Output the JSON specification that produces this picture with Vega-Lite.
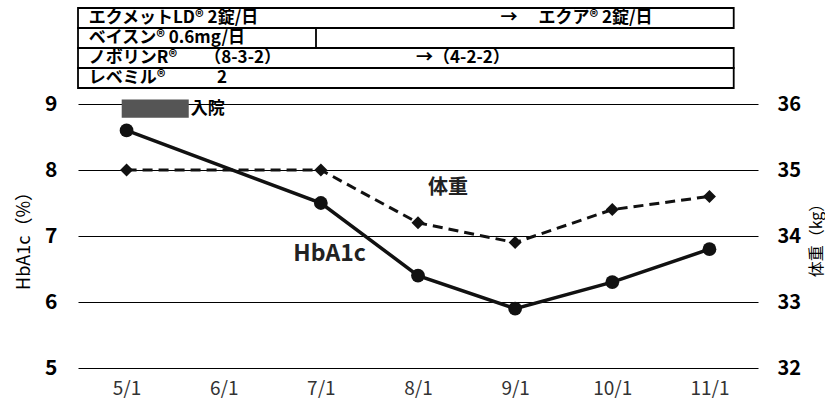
{
  "$schema": "https://vega.github.io/schema/vega-lite/v6.json",
  "padding": {"left": 15, "top": 7, "right": 0, "bottom": 0},
  "background": "white",
  "bounds": "flush",
  "spacing": 16,
  "config": {
    "view": {"stroke": null},
    "font": "Noto Sans CJK JP",
    "axisX": {"grid": false, "domain": false, "ticks": false, "labelFontSize": 19, "labelColor": "#333", "labelPadding": 11, "title": null}
  },
  "datasets": {
    "table": [
      {"row": "エクメットLD", "start": 4.5, "end": 11.25},
      {"row": "ベイスン", "start": 4.5, "end": 6.95},
      {"row": "ノボリンR", "start": 4.5, "end": 11.25},
      {"row": "レベミル", "start": 4.5, "end": 11.25}
    ],
    "tabletext": [
      {"row": "エクメットLD", "x": 4.61, "t": "エクメットLD® 2錠/日"},
      {"row": "エクメットLD", "x": 8.85, "t": "→　 エクア® 2錠/日"},
      {"row": "ベイスン", "x": 4.61, "t": "ベイスン® 0.6mg/日"},
      {"row": "ノボリンR", "x": 4.61, "t": "ノボリンR®"},
      {"row": "ノボリンR", "x": 5.8, "t": "（8-3-2）"},
      {"row": "ノボリンR", "x": 7.98, "t": "→（4-2-2）"},
      {"row": "レベミル", "x": 4.61, "t": "レベミル®"},
      {"row": "レベミル", "x": 5.93, "t": "2"}
    ],
    "series": [
      {"m": 5, "hba1c": 8.6, "weight": 35.0},
      {"m": 7, "hba1c": 7.5, "weight": 35.0},
      {"m": 8, "hba1c": 6.4, "weight": 34.2},
      {"m": 9, "hba1c": 5.9, "weight": 33.9},
      {"m": 10, "hba1c": 6.3, "weight": 34.4},
      {"m": 11, "hba1c": 6.8, "weight": 34.6}
    ],
    "events": [
      {"event": "入院", "start": 4.95, "end": 5.64}
    ],
    "labels": [
      {"series": "HbA1c", "m": 7.09, "v": 6.73},
      {"series": "体重", "m": 8.31, "v": 34.73}
    ]
  },
  "vconcat": [
    {
      "width": 680,
      "height": 80,
      "layer": [
        {
          "data": {"name": "table"},
          "mark": {"type": "rect", "fill": "white", "stroke": "black", "strokeWidth": 1.8},
          "encoding": {
            "x": {"field": "start", "type": "quantitative", "scale": {"domain": [4.5, 11.5]}, "axis": null},
            "x2": {"field": "end"},
            "y": {"field": "row", "type": "nominal", "sort": ["エクメットLD", "ベイスン", "ノボリンR", "レベミル"], "scale": {"paddingInner": 0, "paddingOuter": 0}, "axis": null}
          }
        },
        {
          "data": {"name": "tabletext"},
          "mark": {"type": "text", "align": "left", "baseline": "middle", "fontSize": 17, "fontWeight": "bold", "color": "black"},
          "encoding": {
            "x": {"field": "x", "type": "quantitative", "scale": {"domain": [4.5, 11.5]}, "axis": null},
            "y": {"field": "row", "type": "nominal", "sort": ["エクメットLD", "ベイスン", "ノボリンR", "レベミル"], "axis": null},
            "text": {"field": "t"}
          }
        }
      ]
    },
    {
      "width": 680,
      "height": 264,
      "layer": [
        {
          "layer": [
            {
              "data": {"name": "events"},
              "mark": {"type": "rect", "color": "#555"},
              "encoding": {
                "x": {"field": "start", "type": "quantitative", "scale": {"domain": [4.5, 11.5]}, "axis": {"values": [5, 6, 7, 8, 9, 10, 11], "labelExpr": "datum.value + '/1'"}},
                "x2": {"field": "end"},
                "y": {"datum": 9.07, "type": "quantitative", "scale": {"domain": [5, 9]}, "axis": {"orient": "left", "values": [5, 6, 7, 8, 9], "format": "d", "grid": true, "gridColor": "#000", "gridWidth": 1.2, "domain": false, "ticks": false, "labelFontSize": 21, "labelFontWeight": "bold", "labelColor": "#000", "labelPadding": 21, "title": "HbA1c（%）", "titleFontSize": 18, "titleFontWeight": "normal", "titleColor": "#000", "titlePadding": 11}},
                "y2": {"datum": 8.79}
              }
            },
            {
              "data": {"name": "events"},
              "mark": {"type": "text", "align": "left", "baseline": "middle", "dx": 2, "fontSize": 17, "fontWeight": "bold", "color": "#000"},
              "encoding": {
                "x": {"field": "end", "type": "quantitative", "scale": {"domain": [4.5, 11.5]}, "axis": {"values": [5, 6, 7, 8, 9, 10, 11], "labelExpr": "datum.value + '/1'"}},
                "y": {"datum": 8.93, "type": "quantitative"},
                "text": {"field": "event"}
              }
            },
            {
              "data": {"name": "series"},
              "mark": {"type": "line", "color": "#111", "strokeWidth": 3.5},
              "encoding": {
                "x": {"field": "m", "type": "quantitative", "scale": {"domain": [4.5, 11.5]}, "axis": {"values": [5, 6, 7, 8, 9, 10, 11], "labelExpr": "datum.value + '/1'"}},
                "y": {"field": "hba1c", "type": "quantitative"}
              }
            },
            {
              "data": {"name": "series"},
              "mark": {"type": "point", "shape": "circle", "filled": true, "size": 190, "color": "#111", "opacity": 1},
              "encoding": {
                "x": {"field": "m", "type": "quantitative", "scale": {"domain": [4.5, 11.5]}, "axis": {"values": [5, 6, 7, 8, 9, 10, 11], "labelExpr": "datum.value + '/1'"}},
                "y": {"field": "hba1c", "type": "quantitative"}
              }
            },
            {
              "data": {"name": "labels"},
              "transform": [{"filter": "datum.series == 'HbA1c'"}],
              "mark": {"type": "text", "align": "center", "baseline": "middle", "fontSize": 23, "fontWeight": "bold", "color": "#222"},
              "encoding": {
                "x": {"field": "m", "type": "quantitative", "scale": {"domain": [4.5, 11.5]}, "axis": {"values": [5, 6, 7, 8, 9, 10, 11], "labelExpr": "datum.value + '/1'"}},
                "y": {"field": "v", "type": "quantitative"},
                "text": {"field": "series"}
              }
            }
          ]
        },
        {
          "layer": [
            {
              "data": {"name": "series"},
              "mark": {"type": "line", "color": "#111", "strokeWidth": 3, "strokeDash": [10, 6]},
              "encoding": {
                "x": {"field": "m", "type": "quantitative", "scale": {"domain": [4.5, 11.5]}, "axis": {"values": [5, 6, 7, 8, 9, 10, 11], "labelExpr": "datum.value + '/1'"}},
                "y": {"field": "weight", "type": "quantitative", "scale": {"domain": [32, 36]}, "axis": {"orient": "right", "values": [32, 33, 34, 35, 36], "format": "d", "grid": false, "domain": false, "ticks": false, "labelFontSize": 20, "labelFontWeight": "bold", "labelColor": "#000", "labelPadding": 19, "title": "体重（kg）", "titleFontSize": 16, "titleFontWeight": "normal", "titleColor": "#000", "titleAngle": 270, "titleBaseline": "top", "titlePadding": 8}}
              }
            },
            {
              "data": {"name": "series"},
              "mark": {"type": "point", "shape": "diamond", "filled": true, "size": 170, "color": "#111", "opacity": 1},
              "encoding": {
                "x": {"field": "m", "type": "quantitative", "scale": {"domain": [4.5, 11.5]}, "axis": {"values": [5, 6, 7, 8, 9, 10, 11], "labelExpr": "datum.value + '/1'"}},
                "y": {"field": "weight", "type": "quantitative"}
              }
            },
            {
              "data": {"name": "labels"},
              "transform": [{"filter": "datum.series == '体重'"}],
              "mark": {"type": "text", "align": "center", "baseline": "middle", "fontSize": 20, "fontWeight": "bold", "color": "#222"},
              "encoding": {
                "x": {"field": "m", "type": "quantitative", "scale": {"domain": [4.5, 11.5]}, "axis": {"values": [5, 6, 7, 8, 9, 10, 11], "labelExpr": "datum.value + '/1'"}},
                "y": {"field": "v", "type": "quantitative"},
                "text": {"field": "series"}
              }
            }
          ]
        }
      ],
      "resolve": {"scale": {"y": "independent"}}
    }
  ]
}
